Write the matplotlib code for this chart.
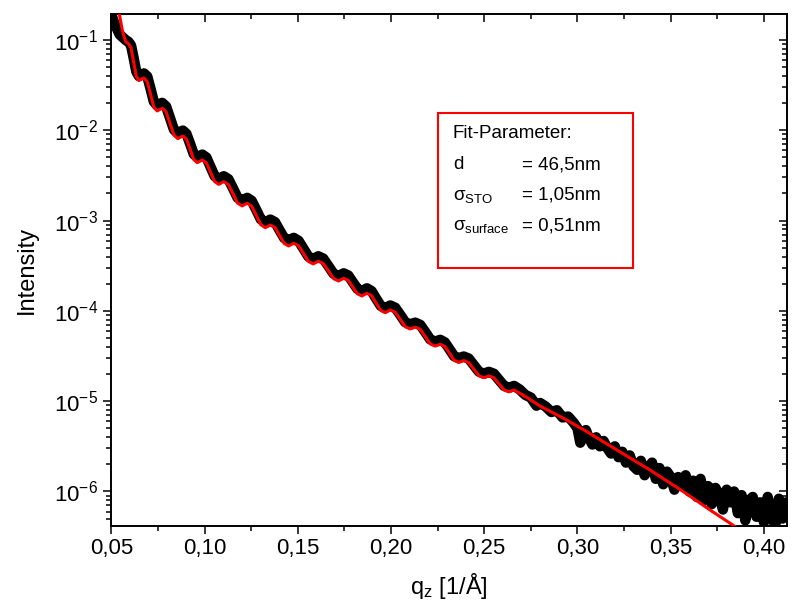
import numpy as np
import matplotlib
matplotlib.use("Agg")
import matplotlib.pyplot as plt
from matplotlib.patches import Rectangle
from matplotlib.ticker import MultipleLocator, LogLocator, FuncFormatter, NullFormatter

# fit curve (red), log10 of intensity
fit_q = [0.0500, 0.0543, 0.0560, 0.0577, 0.0592, 0.0606, 0.0620, 0.0634, 0.0648, 0.0675,
         0.0693, 0.0711, 0.0728, 0.0746, 0.0773,
         0.0794, 0.0815, 0.0836, 0.0857, 0.0884,
         0.0903, 0.0923, 0.0942, 0.0961, 0.0988,
         0.1010, 0.1032, 0.1054, 0.1076, 0.1103,
         0.1128, 0.1153, 0.1177, 0.1202, 0.1229,
         0.1253, 0.1278, 0.1302, 0.1326, 0.1353,
         0.1378, 0.1402, 0.1427, 0.1451, 0.1478,
         0.1504, 0.1531, 0.1557, 0.1583, 0.1610,
         0.1637, 0.1665, 0.1692, 0.1719, 0.1746,
         0.1771, 0.1795, 0.1820, 0.1844, 0.1871,
         0.1896, 0.1920, 0.1945, 0.1969, 0.1996,
         0.2023, 0.2050, 0.2076, 0.2103, 0.2130,
         0.2157, 0.2184, 0.2210, 0.2237, 0.2264,
         0.2289, 0.2314, 0.2338, 0.2363, 0.2390,
         0.2417, 0.2444, 0.2471, 0.2498, 0.2525,
         0.2552, 0.2579, 0.2606, 0.2633, 0.2660,
         0.2730, 0.2800, 0.2925, 0.3050, 0.3211, 0.3389, 0.3568, 0.3711, 0.3854, 0.3900]
fit_log = [-0.35, -0.712, -0.90, -1.02, -1.04, -1.089, -1.245, -1.401, -1.45, -1.42,
           -1.464, -1.603, -1.742, -1.786, -1.756,
           -1.796, -1.925, -2.053, -2.093, -2.063,
           -2.099, -2.211, -2.323, -2.359, -2.329,
           -2.361, -2.464, -2.567, -2.599, -2.569,
           -2.601, -2.704, -2.806, -2.838, -2.808,
           -2.841, -2.944, -3.046, -3.079, -3.049,
           -3.077, -3.165, -3.253, -3.281, -3.251,
           -3.278, -3.366, -3.453, -3.480, -3.450,
           -3.476, -3.560, -3.643, -3.669, -3.639,
           -3.663, -3.737, -3.811, -3.835, -3.805,
           -3.831, -3.913, -3.994, -4.020, -3.990,
           -4.015, -4.095, -4.175, -4.200, -4.180,
           -4.205, -4.285, -4.365, -4.390, -4.370,
           -4.394, -4.470, -4.546, -4.570, -4.550,
           -4.573, -4.645, -4.717, -4.740, -4.720,
           -4.741, -4.808, -4.875, -4.896, -4.876,
           -4.960, -5.055, -5.189, -5.337, -5.540, -5.762, -6.002, -6.205, -6.400, -6.460]

# measured data (black), log10 of intensity
data_q = [0.0497, 0.0520, 0.0545, 0.0577, 0.0592, 0.0606, 0.0620, 0.0634, 0.0648, 0.0675,
          0.0693, 0.0711, 0.0728, 0.0746, 0.0773,
          0.0794, 0.0815, 0.0836, 0.0857, 0.0884,
          0.0903, 0.0923, 0.0942, 0.0961, 0.0988,
          0.1010, 0.1032, 0.1054, 0.1076, 0.1103,
          0.1128, 0.1153, 0.1177, 0.1202, 0.1229,
          0.1253, 0.1278, 0.1302, 0.1326, 0.1353,
          0.1378, 0.1402, 0.1427, 0.1451, 0.1478,
          0.1504, 0.1531, 0.1557, 0.1583, 0.1610,
          0.1637, 0.1665, 0.1692, 0.1719, 0.1746,
          0.1771, 0.1795, 0.1820, 0.1844, 0.1871,
          0.1896, 0.1920, 0.1945, 0.1969, 0.1996,
          0.2023, 0.2050, 0.2076, 0.2103, 0.2130,
          0.2157, 0.2184, 0.2210, 0.2237, 0.2264,
          0.2289, 0.2314, 0.2338, 0.2363, 0.2390,
          0.2417, 0.2444, 0.2471, 0.2498, 0.2525,
          0.2552, 0.2579, 0.2606, 0.2633, 0.2660,
          0.2690, 0.2720, 0.2750, 0.2780, 0.2800, 0.2830, 0.2860, 0.2890, 0.2920, 0.2950,
          0.2980, 0.3000, 0.3015, 0.3030, 0.3045, 0.3060, 0.3080, 0.3100, 0.3120, 0.3140,
          0.3160, 0.3180, 0.3200, 0.3220, 0.3240, 0.3260, 0.3280, 0.3300, 0.3320, 0.3340,
          0.3360, 0.3380, 0.3400, 0.3420, 0.3440, 0.3460, 0.3480, 0.3500, 0.3520, 0.3540,
          0.3560, 0.3580, 0.3600, 0.3620, 0.3640, 0.3660, 0.3680, 0.3700, 0.3720, 0.3740,
          0.3760, 0.3780, 0.3800, 0.3820, 0.3840, 0.3860, 0.3880, 0.3900, 0.3920, 0.3940,
          0.3960, 0.3980, 0.4000, 0.4020, 0.4040, 0.4060, 0.4080, 0.4100, 0.4120]
data_log = [-0.70, -0.83, -0.94, -1.00, -1.02, -1.06, -1.20, -1.35, -1.40, -1.37,
            -1.404, -1.543, -1.682, -1.726, -1.696,
            -1.736, -1.865, -1.993, -2.033, -2.003,
            -2.039, -2.151, -2.263, -2.299, -2.269,
            -2.301, -2.404, -2.507, -2.539, -2.509,
            -2.541, -2.644, -2.746, -2.778, -2.748,
            -2.781, -2.884, -2.986, -3.019, -2.989,
            -3.017, -3.105, -3.193, -3.221, -3.191,
            -3.223, -3.311, -3.398, -3.425, -3.395,
            -3.421, -3.505, -3.588, -3.614, -3.584,
            -3.608, -3.682, -3.756, -3.780, -3.750,
            -3.781, -3.863, -3.944, -3.970, -3.940,
            -3.965, -4.045, -4.125, -4.150, -4.130,
            -4.155, -4.235, -4.315, -4.340, -4.320,
            -4.349, -4.425, -4.501, -4.525, -4.505,
            -4.528, -4.600, -4.672, -4.695, -4.675,
            -4.696, -4.763, -4.830, -4.851, -4.831,
            -4.87, -4.93, -4.96, -5.05, -5.02, -5.06, -5.12, -5.10, -5.18, -5.17,
            -5.24, -5.30, -5.46, -5.38, -5.32, -5.40, -5.48, -5.40, -5.50, -5.44,
            -5.52, -5.58, -5.50, -5.62, -5.56, -5.68, -5.60, -5.72, -5.76, -5.66,
            -5.82, -5.74, -5.68, -5.86, -5.74, -5.92, -5.78, -5.84, -5.98, -5.84,
            -5.94, -5.82, -6.00, -5.88, -6.06, -5.86, -6.10, -5.94, -6.14, -5.96,
            -6.04, -6.20, -5.98, -6.12, -6.00, -6.24, -6.04, -6.32, -6.10, -6.06,
            -6.28, -6.12, -6.34, -6.06, -6.24, -6.38, -6.08, -6.30, -6.12]

fit_lines = ["Fit-Parameter:", "d", r"$\mathregular{σ_{STO}}$", r"$\mathregular{σ_{surface}}$"]
fit_values = ["", "= 46,5nm", "= 1,05nm", "= 0,51nm"]

plt.rcParams["font.family"] = ["Liberation Sans", "DejaVu Sans"]
plt.rcParams["mathtext.fontset"] = "custom"
plt.rcParams["mathtext.rm"] = "Liberation Sans"
plt.rcParams["mathtext.it"] = "Liberation Sans:italic"
plt.rcParams["mathtext.bf"] = "Liberation Sans:bold"

fig = plt.figure(figsize=(7.92, 6.08), dpi=100)
ax = fig.add_axes([0.1398, 0.1349, 0.8535, 0.8421])

ax.plot(data_q, 10 ** np.array(data_log), color="black", lw=7.5,
        solid_capstyle="round", solid_joinstyle="round", zorder=2)
ax.plot(fit_q, 10 ** np.array(fit_log), color="red", lw=2.2, zorder=3)

ax.set_yscale("log")
ax.set_xlim(0.0497, 0.4122)
ax.set_ylim(4.15e-7, 0.194)

ax.xaxis.set_major_locator(MultipleLocator(0.05))
ax.xaxis.set_minor_locator(MultipleLocator(0.025))
ax.xaxis.set_major_formatter(FuncFormatter(lambda v, p: f"{v:.2f}".replace(".", ",")))
ax.yaxis.set_major_locator(LogLocator(base=10))
ax.yaxis.set_minor_locator(LogLocator(base=10, subs=np.arange(2, 10)))
ax.yaxis.set_minor_formatter(NullFormatter())
ax.yaxis.set_major_formatter(FuncFormatter(
    lambda v, p: r"$\mathregular{10^{%d}}$" % int(round(np.log10(v)))))

for s in ax.spines.values():
    s.set_linewidth(1.4)
ax.tick_params(which="both", direction="out", width=1.1, labelsize=16, pad=3)
ax.tick_params(which="major", length=6)
ax.tick_params(which="minor", length=3.5)
ax.tick_params(which="both", top=True, right=True)
# mirrored ticks on top/right point inward
for t in ax.xaxis.get_major_ticks() + ax.xaxis.get_minor_ticks():
    t.tick2line.set_marker(matplotlib.lines.TICKDOWN)
for t in ax.yaxis.get_major_ticks() + ax.yaxis.get_minor_ticks():
    t.tick2line.set_marker(matplotlib.lines.TICKLEFT)

ax.set_xlabel(r"$\mathregular{q_z}$ [1/Å]", fontsize=17, labelpad=8)
ax.set_ylabel("Intensity", fontsize=17, labelpad=12)

# parameter box
ax.add_patch(Rectangle((0.4842, 0.5039), 0.2884, 0.3027, transform=ax.transAxes,
                       fill=False, edgecolor="red", lw=1.5, zorder=4))
y_rows = [0.757, 0.697, 0.637, 0.578]
for name, val, yy in zip(fit_lines, fit_values, y_rows):
    ax.text(0.506, yy, name, transform=ax.transAxes, fontsize=13.5, va="baseline")
    if val:
        ax.text(0.608, yy, val, transform=ax.transAxes, fontsize=13.5, va="baseline")

fig.savefig("out.png", dpi=100)
